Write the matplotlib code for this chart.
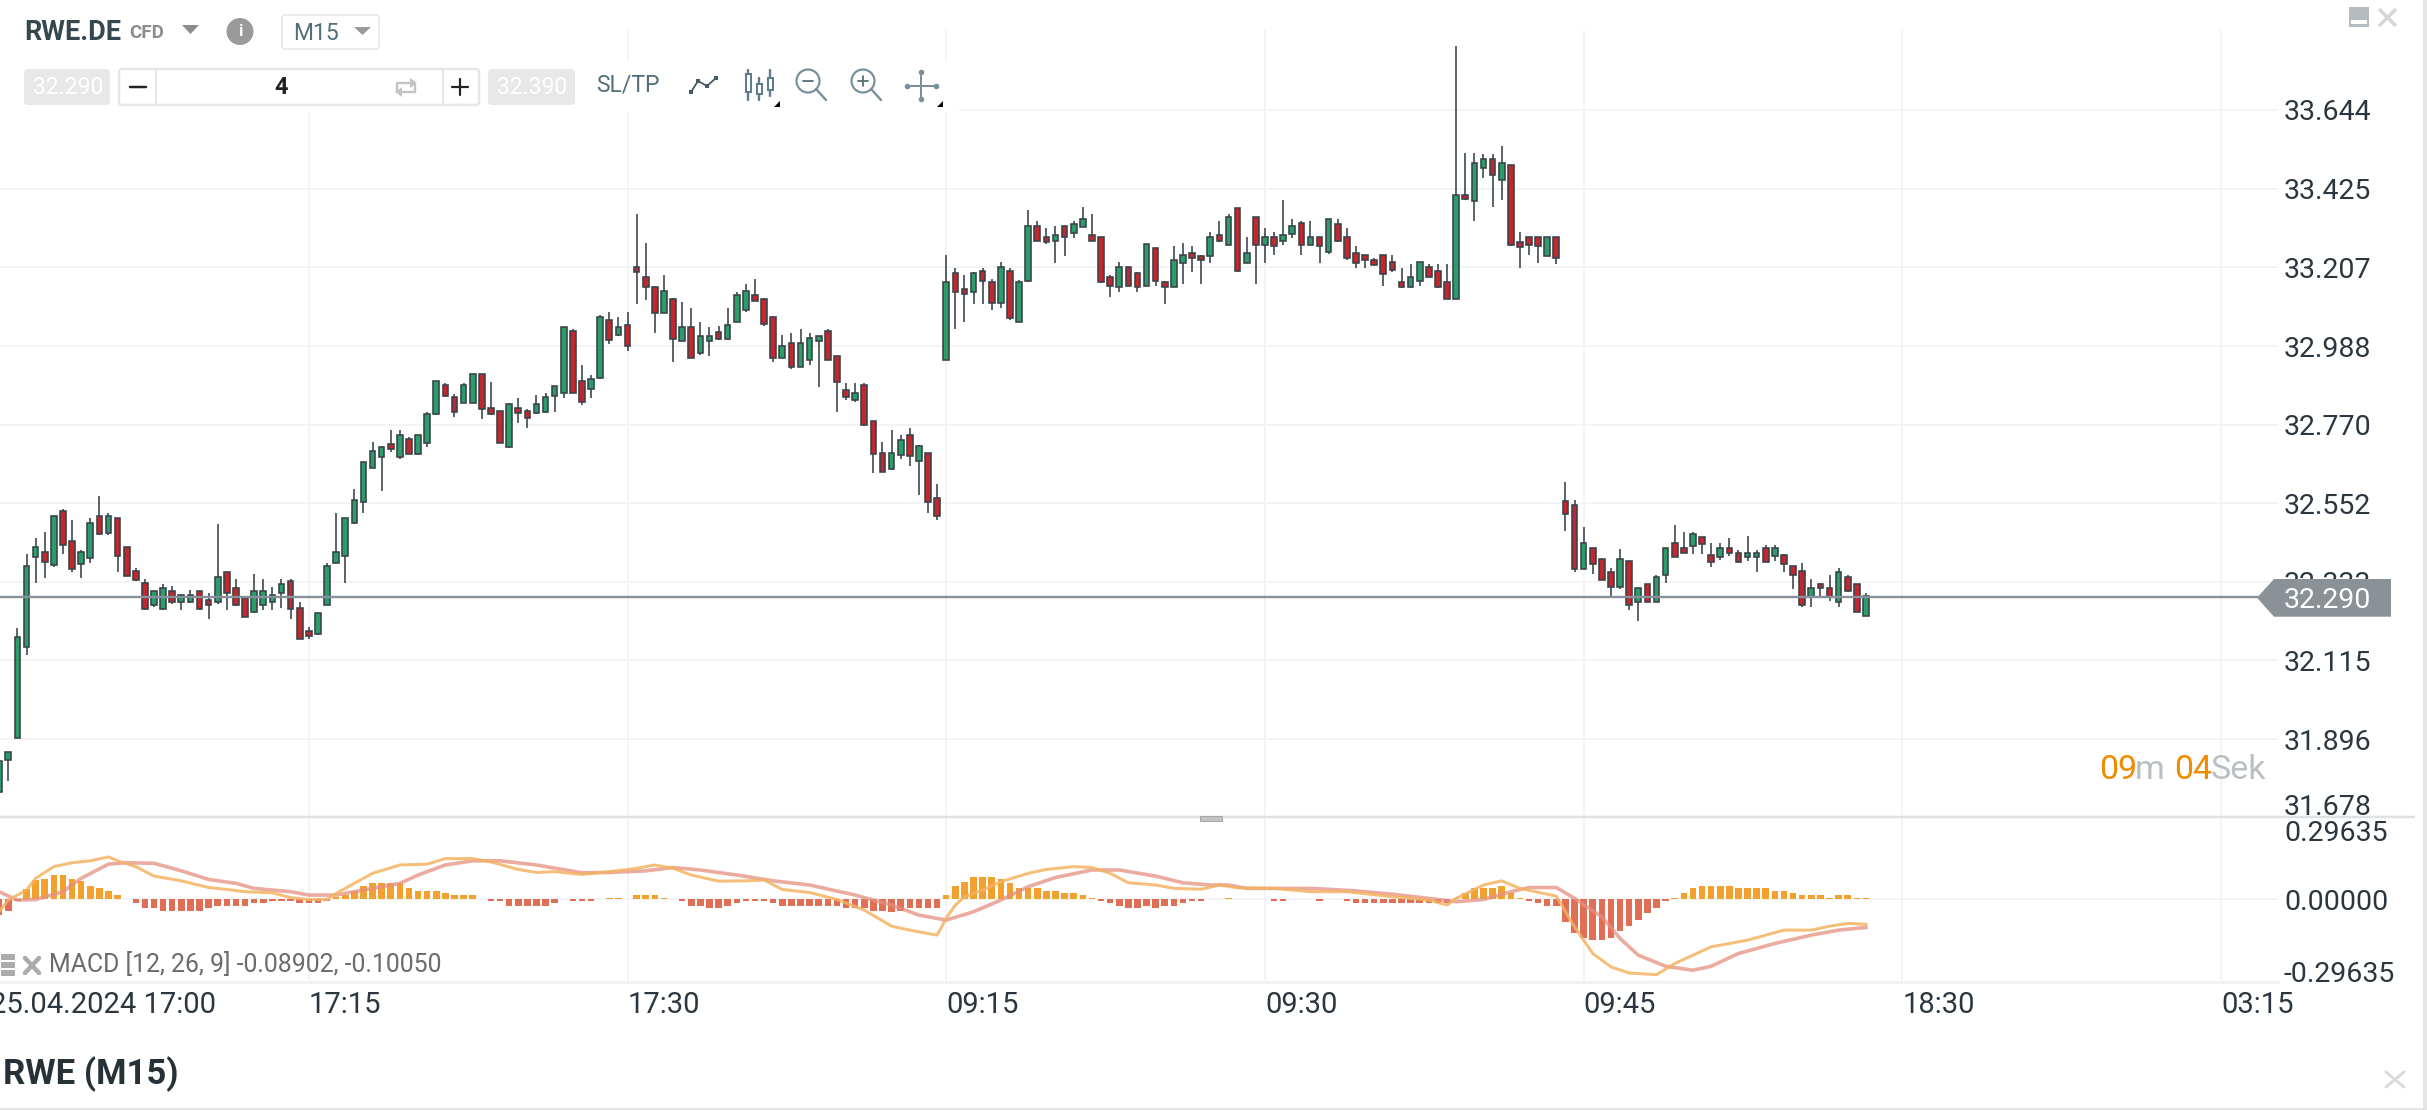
import matplotlib
matplotlib.use("Agg")
import matplotlib.pyplot as plt
import matplotlib.patches as mpatches
import matplotlib.transforms as mtrans
import numpy as np

plt.rcParams["font.family"] = ["Roboto", "DejaVu Sans"]

# ── Data ──────────────────────────────────────────────────────────────────────

OPEN = [
    31.750, 31.838, 31.901, 32.151, 32.401, 32.415, 32.380, 32.530, 32.447, 32.382,
    32.400, 32.516, 32.468, 32.510, 32.429, 32.364, 32.329, 32.269, 32.257, 32.309,
    32.276, 32.276, 32.309, 32.283, 32.276, 32.360, 32.315, 32.289, 32.250, 32.269,
    32.276, 32.301, 32.336, 32.260, 32.197, 32.188, 32.269, 32.387, 32.406, 32.498,
    32.556, 32.650, 32.681, 32.716, 32.680, 32.730, 32.688, 32.720, 32.800, 32.880,
    32.848, 32.831, 32.831, 32.910, 32.816, 32.809, 32.707, 32.816, 32.808, 32.802,
    32.806, 32.850, 32.857, 33.030, 32.890, 32.869, 32.899, 33.061, 33.018, 33.047,
    33.209, 33.179, 33.151, 33.081, 33.118, 33.001, 33.041, 32.968, 33.001, 33.027,
    33.007, 33.056, 33.087, 33.129, 33.118, 33.068, 32.956, 32.996, 32.931, 32.950,
    33.001, 33.029, 32.961, 32.867, 32.837, 32.880, 32.779, 32.691, 32.646, 32.686,
    32.742, 32.669, 32.692, 32.567, 32.950, 33.191, 33.146, 33.138, 33.198, 33.167,
    33.107, 33.198, 33.056, 33.169, 33.322, 33.291, 33.281, 33.322, 33.302, 33.320,
    33.297, 33.291, 33.180, 33.152, 33.209, 33.191, 33.156, 33.260, 33.166, 33.151,
    33.218, 33.246, 33.239, 33.239, 33.297, 33.269, 33.373, 33.220, 33.348, 33.269,
    33.291, 33.281, 33.300, 33.330, 33.269, 33.291, 33.249, 33.328, 33.291, 33.246,
    33.240, 33.226, 33.240, 33.221, 33.166, 33.152, 33.169, 33.209, 33.198, 33.166,
    33.119, 33.408, 33.390, 33.482, 33.508, 33.450, 33.492, 33.277, 33.291, 33.291,
    33.239, 33.291, 32.559, 32.547, 32.369, 32.428, 32.397, 32.360, 32.320, 32.391,
    32.276, 32.327, 32.276, 32.351, 32.440, 32.426, 32.434, 32.459, 32.408, 32.401,
    32.426, 32.414, 32.401, 32.401, 32.428, 32.406, 32.408, 32.377, 32.364, 32.290,
    32.327, 32.315, 32.277, 32.346, 32.327, 32.239,
]
HIGH = [
    31.836, 31.862, 32.204, 32.411, 32.454, 32.473, 32.516, 32.535, 32.505, 32.423,
    32.510, 32.573, 32.524, 32.510, 32.429, 32.371, 32.341, 32.309, 32.327, 32.323,
    32.299, 32.311, 32.309, 32.303, 32.493, 32.360, 32.341, 32.292, 32.355, 32.341,
    32.320, 32.341, 32.341, 32.278, 32.209, 32.248, 32.386, 32.524, 32.510, 32.591,
    32.665, 32.723, 32.711, 32.755, 32.755, 32.737, 32.742, 32.804, 32.892, 32.885,
    32.856, 32.885, 32.910, 32.910, 32.887, 32.809, 32.830, 32.843, 32.813, 32.853,
    32.857, 32.878, 33.041, 33.035, 32.936, 32.908, 33.075, 33.084, 33.070, 33.084,
    33.355, 33.274, 33.156, 33.186, 33.121, 33.110, 33.093, 33.055, 33.041, 33.043,
    33.093, 33.137, 33.160, 33.174, 33.123, 33.072, 33.019, 33.024, 33.035, 33.024,
    33.017, 33.035, 32.961, 32.885, 32.885, 32.885, 32.779, 32.723, 32.755, 32.742,
    32.760, 32.714, 32.692, 32.604, 33.242, 33.205, 33.186, 33.193, 33.205, 33.174,
    33.223, 33.205, 33.172, 33.367, 33.336, 33.316, 33.322, 33.322, 33.336, 33.374,
    33.355, 33.291, 33.186, 33.223, 33.209, 33.193, 33.272, 33.260, 33.169, 33.267,
    33.274, 33.267, 33.242, 33.304, 33.336, 33.355, 33.373, 33.291, 33.348, 33.316,
    33.304, 33.393, 33.342, 33.336, 33.336, 33.291, 33.341, 33.341, 33.316, 33.267,
    33.242, 33.232, 33.242, 33.242, 33.205, 33.217, 33.223, 33.217, 33.217, 33.217,
    33.822, 33.524, 33.524, 33.522, 33.522, 33.543, 33.492, 33.304, 33.291, 33.291,
    33.291, 33.291, 32.610, 32.561, 32.485, 32.428, 32.397, 32.373, 32.424, 32.391,
    32.315, 32.327, 32.352, 32.428, 32.491, 32.473, 32.473, 32.459, 32.440, 32.440,
    32.454, 32.422, 32.461, 32.422, 32.436, 32.436, 32.411, 32.377, 32.385, 32.341,
    32.329, 32.352, 32.373, 32.352, 32.327, 32.303,
]
LOW = [
    31.725, 31.781, 31.901, 32.130, 32.331, 32.343, 32.375, 32.412, 32.361, 32.343,
    32.386, 32.463, 32.463, 32.361, 32.350, 32.336, 32.255, 32.264, 32.255, 32.273,
    32.255, 32.275, 32.255, 32.230, 32.273, 32.255, 32.267, 32.235, 32.248, 32.255,
    32.255, 32.262, 32.230, 32.174, 32.174, 32.186, 32.269, 32.387, 32.331, 32.494,
    32.524, 32.649, 32.586, 32.695, 32.675, 32.689, 32.686, 32.707, 32.797, 32.848,
    32.792, 32.831, 32.830, 32.785, 32.797, 32.718, 32.704, 32.774, 32.762, 32.799,
    32.802, 32.806, 32.843, 32.857, 32.825, 32.843, 32.896, 32.994, 33.015, 32.975,
    33.106, 33.117, 33.024, 33.080, 32.943, 33.001, 32.956, 32.964, 32.961, 33.006,
    33.006, 33.054, 33.084, 33.112, 33.043, 32.943, 32.955, 32.924, 32.929, 32.936,
    32.874, 32.950, 32.804, 32.839, 32.834, 32.767, 32.637, 32.638, 32.644, 32.674,
    32.655, 32.575, 32.524, 32.505, 32.950, 33.036, 33.055, 33.106, 33.106, 33.087,
    33.093, 33.061, 33.055, 33.167, 33.281, 33.272, 33.218, 33.237, 33.288, 33.318,
    33.281, 33.163, 33.124, 33.137, 33.156, 33.137, 33.156, 33.154, 33.106, 33.151,
    33.161, 33.193, 33.161, 33.218, 33.276, 33.268, 33.193, 33.218, 33.161, 33.218,
    33.242, 33.268, 33.288, 33.242, 33.268, 33.218, 33.244, 33.276, 33.226, 33.205,
    33.205, 33.212, 33.156, 33.193, 33.149, 33.149, 33.156, 33.177, 33.149, 33.118,
    33.118, 33.394, 33.336, 33.455, 33.374, 33.393, 33.267, 33.205, 33.242, 33.218,
    33.237, 33.217, 32.475, 32.362, 32.368, 32.355, 32.339, 32.294, 32.313, 32.255,
    32.225, 32.276, 32.276, 32.331, 32.401, 32.413, 32.411, 32.411, 32.374, 32.394,
    32.405, 32.387, 32.392, 32.362, 32.388, 32.392, 32.362, 32.313, 32.263, 32.263,
    32.294, 32.281, 32.263, 32.306, 32.250, 32.239,
]
CLOSE = [
    31.836, 31.860, 32.179, 32.377, 32.429, 32.389, 32.516, 32.437, 32.368, 32.415,
    32.498, 32.466, 32.516, 32.406, 32.350, 32.338, 32.257, 32.309, 32.315, 32.276,
    32.297, 32.297, 32.257, 32.269, 32.348, 32.301, 32.269, 32.236, 32.309, 32.309,
    32.297, 32.327, 32.257, 32.174, 32.184, 32.248, 32.378, 32.415, 32.510, 32.561,
    32.665, 32.698, 32.709, 32.702, 32.742, 32.689, 32.742, 32.799, 32.892, 32.850,
    32.806, 32.880, 32.910, 32.814, 32.800, 32.718, 32.828, 32.802, 32.788, 32.828,
    32.848, 32.878, 33.041, 32.857, 32.834, 32.897, 33.069, 33.006, 33.041, 32.987,
    33.193, 33.151, 33.081, 33.142, 33.007, 33.041, 32.956, 33.015, 33.015, 33.007,
    33.047, 33.130, 33.142, 33.112, 33.049, 32.956, 32.989, 32.930, 32.996, 33.010,
    33.015, 32.950, 32.887, 32.848, 32.859, 32.769, 32.689, 32.638, 32.691, 32.728,
    32.683, 32.711, 32.556, 32.517, 33.166, 33.138, 33.132, 33.191, 33.169, 33.107,
    33.209, 33.066, 33.166, 33.322, 33.281, 33.276, 33.297, 33.290, 33.328, 33.341,
    33.281, 33.167, 33.156, 33.209, 33.156, 33.152, 33.272, 33.169, 33.152, 33.228,
    33.240, 33.232, 33.226, 33.291, 33.281, 33.348, 33.198, 33.246, 33.269, 33.291,
    33.265, 33.297, 33.322, 33.269, 33.291, 33.265, 33.341, 33.281, 33.232, 33.220,
    33.226, 33.214, 33.189, 33.200, 33.152, 33.179, 33.221, 33.181, 33.152, 33.119,
    33.408, 33.396, 33.496, 33.508, 33.464, 33.496, 33.269, 33.263, 33.269, 33.265,
    33.291, 33.232, 32.521, 32.368, 32.440, 32.383, 32.339, 32.320, 32.397, 32.269,
    32.315, 32.276, 32.348, 32.428, 32.401, 32.414, 32.466, 32.439, 32.388, 32.428,
    32.414, 32.388, 32.414, 32.414, 32.388, 32.428, 32.382, 32.351, 32.269, 32.315,
    32.315, 32.290, 32.360, 32.308, 32.250, 32.295,
]

HIST = [
    -.056, -.041, -.006, .036, .070, .072, .089, .089, .072, .066,
    .048, .040, .031, .016, 0, -.014, -.032, -.032, -.041, -.041,
    -.041, -.041, -.041, -.032, -.024, -.024, -.024, -.024, -.014, -.014,
    -.006, -.006, -.006, -.014, -.014, -.014, -.006, .010, .016, .031,
    .048, .058, .058, .058, .058, .040, .031, .031, .031, .024,
    .016, .016, .016, 0, -.006, -.006, -.024, -.024, -.024, -.024,
    -.024, -.014, 0, -.006, -.006, -.006, 0, .007, .007, 0,
    .016, .016, .016, .007, 0, -.006, -.024, -.024, -.032, -.032,
    -.024, -.014, -.006, -.006, -.006, -.014, -.024, -.024, -.024, -.024,
    -.024, -.024, -.024, -.032, -.032, -.032, -.041, -.041, -.046, -.041,
    -.032, -.032, -.032, -.032, .016, .048, .064, .082, .082, .082,
    .072, .058, .040, .040, .040, .031, .031, .024, .024, .016,
    .007, -.006, -.014, -.024, -.032, -.032, -.024, -.032, -.024, -.024,
    -.014, -.006, -.006, 0, 0, .007, 0, 0, 0, 0,
    -.006, -.006, 0, 0, 0, -.006, 0, 0, -.006, -.014,
    -.014, -.014, -.014, -.014, -.014, -.014, -.014, -.014, -.014, -.014,
    .007, .024, .040, .040, .040, .048, .024, .007, -.006, -.014,
    -.024, -.024, -.080, -.120, -.137, -.146, -.146, -.137, -.113, -.096,
    -.072, -.048, -.032, -.006, .007, .024, .040, .048, .048, .048,
    .048, .040, .040, .040, .040, .031, .031, .024, .016, .016,
    .016, .007, .016, .016, .007, .007,
]

MACD_IDX = [
    0, 1, 3, 4, 6, 8, 10, 12, 13, 15, 17, 20, 23, 25, 27, 30, 32, 34, 36, 37,
    39, 41, 44, 47, 49, 52, 54, 57, 59, 61, 64, 67, 70, 72, 74, 76, 79, 82, 84,
    86, 89, 92, 95, 98, 100, 103, 104, 105, 106, 108, 110, 113, 115, 118, 120,
    122, 124, 127, 129, 132, 134, 136, 140, 144, 148, 153, 157, 159, 160, 163,
    165, 167, 171, 173, 175, 177, 179, 182, 184, 188, 192, 196, 199, 201, 203, 205,
]
MACD_VAL = [
    -.044, -.002, .034, .076, .118, .132, .139, .153, .139, .118, .084, .067,
    .043, .036, .028, .024, .007, 0, 0, .022, .058, .094, .124, .127, .147,
    .147, .135, .108, .097, .100, .090, .100, .112, .124, .112, .088, .066,
    .067, .070, .036, .025, 0, -.038, -.096, -.110, -.128, -.067, -.020, .010,
    .034, .064, .094, .108, .118, .115, .094, .060, .052, .040, .037, .052,
    .042, .040, .028, .028, .010, -.002, -.020, .004, .052, .067, .040, .012,
    -.098, -.194, -.242, -.264, -.270, -.230, -.170, -.146, -.110, -.110,
    -.096, -.086, -.08902,
]
SIGNAL_IDX = [
    0, 2, 4, 7, 9, 12, 14, 17, 20, 23, 26, 28, 32, 34, 37, 40, 44, 46, 49, 52,
    55, 59, 64, 67, 71, 74, 77, 81, 85, 89, 94, 98, 101, 104, 107, 110, 113,
    116, 120, 123, 127, 130, 133, 135, 137, 144, 149, 153, 157, 160, 163, 166,
    168, 171, 173, 176, 178, 180, 183, 186, 188, 191, 195, 199, 202, 205,
]
SIGNAL_VAL = [
    .028, -.002, 0, .028, .076, .127, .132, .130, .103, .072, .058, .040, .028,
    .016, .016, .034, .058, .088, .124, .139, .139, .124, .096, .097, .103,
    .115, .106, .088, .067, .052, .016, -.020, -.056, -.074, -.044, -.002,
    .046, .079, .106, .106, .084, .060, .052, .052, .040, .040, .031, .019,
    .004, -.008, 0, .028, .043, .043, .004, -.062, -.140, -.200, -.240, -.254,
    -.240, -.194, -.158, -.128, -.110, -.1005,
]

PRICE_TICKS = [33.644, 33.425, 33.207, 32.988, 32.770, 32.552, 32.333, 32.115, 31.896, 31.678]
PRICE_LABELS = ["33.644", "33.425", "33.207", "32.988", "32.770",
                "32.552", "32.333", "32.115", "31.896", "31.678"]
LAST_PRICE = 32.290
MACD_RANGE = 0.29635

TIME_TICKS = [-1, 34, 69, 104, 139, 174, 209, 244]
TIME_LABELS = ["25.04.2024 17:00", "17:15", "17:30", "09:15", "09:30", "09:45", "18:30", "03:15"]

# ── Layout (pixels of the 2427x1110 picture) ──────────────────────────────────

W, H = 2427, 1110
PLOT_RIGHT = 2278
PRICE_TOP, PRICE_BOTTOM = 30, 817.8
MACD_TOP, MACD_BOTTOM = 817, 982
# candle i sits at 308.8 + (i - 34) * 9.106 px
XLIM = (34 - 308.8 / 9.106, 34 + (PLOT_RIGHT - 308.8) / 9.106)
PRICE_YLIM = (31.678, 33.866)

INK = "#2b3640"
SLATE = "#546e7a"
WICK = "#38424a"
GREEN = "#2a9d68"
RED = "#c2272d"
GRID = "#f3f4f6"
BAR_UP = "#f2a12e"
BAR_DOWN = "#e06f56"
PX = 72 / 100  # one pixel in points
TICK_SIZE = 20.5


def _axes_at(left, top, right, bottom, **kw):
    return fig.add_axes([left / W, 1 - bottom / H, (right - left) / W, (bottom - top) / H], **kw)


def _nudge(text, dy_px):
    # tick labels at the pane edges sit a little inside the pane
    text.set_transform(text.get_transform() + mtrans.Affine2D().translate(0, dy_px))


fig = plt.figure(figsize=(W / 100, H / 100), dpi=100, facecolor="white")

# ── Price pane ────────────────────────────────────────────────────────────────

ax = _axes_at(0, PRICE_TOP, PLOT_RIGHT, PRICE_BOTTOM)
idx = np.arange(len(OPEN))
opens, highs, lows, closes = map(np.array, (OPEN, HIGH, LOW, CLOSE))
up = closes >= opens

ax.vlines(idx, lows, highs, color=WICK, linewidth=1.6 * PX, zorder=3)
ax.bar(idx, np.abs(closes - opens), bottom=np.minimum(opens, closes), width=0.62,
       color=np.where(up, GREEN, RED), edgecolor=WICK, linewidth=1.6 * PX, zorder=4)
ax.axhline(LAST_PRICE, xmax=2257 / PLOT_RIGHT, color="#87919a", linewidth=2.4 * PX, zorder=5)

ax.set_xlim(XLIM)
ax.set_ylim(PRICE_YLIM)
ax.set_xticks(TIME_TICKS[1:])
ax.set_yticks(PRICE_TICKS)
ax.set_yticklabels(PRICE_LABELS)
ax.yaxis.tick_right()
ax.tick_params(axis="x", length=0, labelbottom=False)
ax.tick_params(axis="y", length=0, pad=4.3, labelsize=TICK_SIZE, labelcolor=INK)
ax.get_yticklabels()[-1].set_va("baseline")
_nudge(ax.get_yticklabels()[-1], 3)
ax.grid(True, color=GRID, linewidth=2 * PX, zorder=0)
ax.set_axisbelow(True)
for s in ax.spines.values():
    s.set_visible(False)

# ── MACD pane ─────────────────────────────────────────────────────────────────

mx = _axes_at(0, MACD_TOP, PLOT_RIGHT, MACD_BOTTOM)
hist = np.array(HIST)
mx.bar(np.arange(len(hist)), hist, width=0.72, color=np.where(hist >= 0, BAR_UP, BAR_DOWN),
       linewidth=0, zorder=3)
mx.plot(SIGNAL_IDX, SIGNAL_VAL, color="#e58f7e", linewidth=3.6 * PX, alpha=0.75, zorder=4)
mx.plot(MACD_IDX, MACD_VAL, color="#f4b362", linewidth=3 * PX, alpha=0.85, zorder=5)

mx.set_xlim(XLIM)
mx.set_ylim(-MACD_RANGE, MACD_RANGE)
mx.set_xticks(TIME_TICKS[1:])
mx.set_yticks([-MACD_RANGE, 0, MACD_RANGE])
mx.set_yticklabels(["-0.29635", "0.00000", "0.29635"])
mx.yaxis.tick_right()
mx.tick_params(axis="x", length=0, labelbottom=False)
mx.tick_params(axis="y", length=0, pad=4.3, labelsize=TICK_SIZE, labelcolor=INK)
mx.get_yticklabels()[0].set_va("baseline")
mx.get_yticklabels()[2].set_va("top")
_nudge(mx.get_yticklabels()[2], -3)
mx.grid(True, color=GRID, linewidth=2 * PX, zorder=0)
mx.set_axisbelow(True)
for s in mx.spines.values():
    s.set_visible(False)
mx.spines["bottom"].set_visible(True)
mx.spines["bottom"].set_color("#f1f2f3")
mx.spines["bottom"].set_linewidth(3 * PX)

for tick, text in zip(TIME_TICKS, TIME_LABELS):
    mx.annotate(text, (tick, 0), xycoords=("data", "axes fraction"), xytext=(0, -6.8),
                textcoords="offset points", ha="left", va="top", fontsize=21, color=INK,
                annotation_clip=False)

# ── Window chrome, drawn over everything ──────────────────────────────────────

ov = fig.add_axes([0, 0, 1, 1], zorder=10)
ov.set_xlim(0, W)
ov.set_ylim(H, 0)
ov.axis("off")
ov.patch.set_alpha(0)


def rect(x0, y0, x1, y1, color, round_px=0, edge="none", lw=0, zorder=1):
    if round_px:
        p = mpatches.FancyBboxPatch((x0, y0), x1 - x0, y1 - y0, boxstyle=f"round,pad=0,rounding_size={round_px}",
                                    facecolor=color, edgecolor=edge, linewidth=lw * PX, zorder=zorder)
    else:
        p = mpatches.Rectangle((x0, y0), x1 - x0, y1 - y0, facecolor=color, edgecolor=edge,
                               linewidth=lw * PX, zorder=zorder)
    ov.add_patch(p)


def label(x, y, s, size, color, weight="normal", ha="left", zorder=5):
    ov.text(x, y, s, fontsize=size, color=color, fontweight=weight, ha=ha, va="center", zorder=zorder)


def line(xs, ys, color, lw, zorder=3):
    ov.plot(xs, ys, color=color, linewidth=lw * PX, solid_capstyle="round", zorder=zorder)


def tri(pts, color):
    ov.add_patch(mpatches.Polygon(pts, closed=True, facecolor=color, edgecolor="none", zorder=4))


# header and toolbar backgrounds hide the grid behind them
rect(0, 0, 500, 60, "white")
rect(0, 60, 959, 113, "white")

label(24, 32, "RWE.DE", 19.5, "#37474f", "bold")
label(129, 33, "CFD", 13.5, "#8c8c8c", "bold")
tri([(182, 25), (199, 25), (190.5, 34)], "#8c8c8c")
ov.add_patch(mpatches.Ellipse((240, 31.5), 27, 27, facecolor="#9a9a9a", edgecolor="none", zorder=3))
label(240, 31.5, "i", 12, "white", "bold", ha="center")
rect(282, 15, 379, 49, "white", 3, "#e8eaeb", 2)
label(293, 33, "M15", 16.5, SLATE)
tri([(354, 27), (371, 27), (362.5, 35)], "#9a9a9a")

rect(24, 69, 110, 105, "#e8e8e8", 4)
label(33, 87, "32.290", 16.5, "white")
rect(119, 69, 479, 105, "white", 3, "#e6e6e6", 2.5)
line([156, 156], [70, 104], "#e6e6e6", 2)
line([443, 443], [70, 104], "#e6e6e6", 2)
line([130, 146], [87, 87], "#222222", 2.5)
label(281, 87, "4", 17, "#222222", "bold", ha="center")
line([452, 468], [87, 87], "#222222", 2.2)
line([460, 460], [79, 95], "#222222", 2.2)

# swap icon inside the quantity box
line([397, 397, 411], [90, 83, 83], "#c4c4c4", 2.4)
tri([(410, 78), (417, 83), (410, 88)], "#c4c4c4")
line([415, 415, 401], [85, 92, 92], "#c4c4c4", 2.4)
tri([(402, 87), (395, 92), (402, 97)], "#c4c4c4")

rect(488, 69, 575, 105, "#e8e8e8", 4)
label(497, 87, "32.390", 16.5, "white")
label(596, 85, "SL/TP", 16.5, SLATE)

# chart type icons
line([691, 698, 707, 716], [92, 81, 86, 78], "#455a64", 1.8)
for px_, py_ in [(691, 92), (698, 81), (707, 86), (716, 78)]:
    rect(px_ - 2.2, py_ - 2.2, px_ + 2.2, py_ + 2.2, "#455a64", zorder=4)
for cx, y0, y1, b0, b1 in [(748, 70, 100, 74, 92), (759, 78, 100, 84, 94), (770, 70, 96, 78, 90)]:
    line([cx, cx], [y0, y1], "#607d8b", 2.4)
    rect(cx - 2.5, b0, cx + 2.5, b1, "white", 0, "#607d8b", 2, zorder=4)
for cx, plus in [(808, False), (863, True)]:
    ov.add_patch(mpatches.Circle((cx, 81), 11.5, facecolor="none", edgecolor="#78909c", linewidth=2.2 * PX, zorder=3))
    line([cx + 8, cx + 18], [89, 100], "#78909c", 2.4)
    line([cx - 5, cx + 5], [81, 81], "#546e7a", 1.8)
    if plus:
        line([cx, cx], [76, 86], "#546e7a", 1.8)
line([907, 936], [85.5, 85.5], "#78909c", 2)
line([921, 921], [72, 99], "#78909c", 2)
for px_, py_ in [(907, 85.5), (936, 85.5), (921, 72), (921, 99)]:
    ov.plot(px_, py_, "o", color="#78909c", markersize=3, zorder=4)
tri([(774, 107), (780, 107), (780, 101)], "black")
tri([(937, 107), (943, 107), (943, 101)], "black")

# top right window controls
rect(2349, 7, 2369, 27, "#b6bbbf")
rect(2351, 19.5, 2367, 23.5, "white", zorder=2)
line([2380, 2395], [10, 25], "#d4d6d8", 3.5)
line([2395, 2380], [10, 25], "#d4d6d8", 3.5)

# pane divider and resize handle
line([0, 2414], [817, 817], "#dfe1e2", 2.5)
rect(1200, 816, 1222, 821, "#c2c2c2", 0, "#a8a8a8", 1, zorder=4)

# last price tag covers the tick label behind it
tri([(2257, 597.7), (2274, 579), (2391, 579), (2391, 616.7), (2274, 616.7)], "#8a9297")
label(2284, 600, "32.290", TICK_SIZE, "white", zorder=6)

# candle countdown
for x, s, c in [(2099, "09", "#f08c00"), (2135, "m", "#b9c0c5"), (2174, "04", "#f08c00"), (2211, "Sek", "#b9c0c5")]:
    label(x, 770, s, 24.5, c)

# MACD legend
for y0 in [954, 962, 970]:
    rect(1, y0, 15, y0 + 6, "#ababab", zorder=2)
line([25, 39], [958, 973], "#ababab", 4.5)
line([39, 25], [958, 973], "#ababab", 4.5)
label(49, 965, "MACD [12, 26, 9] -0.08902, -0.10050", 17.9, "#6b6b6b")

# bottom title bar
label(3, 1074, "RWE (M15)", 25, "#263238", "bold")
line([2386, 2404], [1072, 1087], "#d8dadc", 3)
line([2404, 2386], [1072, 1087], "#d8dadc", 3)
line([0, W], [1109, 1109], "#e2e3e4", 2)
rect(2423, 0, W, H, "#e3e5e7")

fig.savefig("out.png", dpi=100, facecolor="white")
